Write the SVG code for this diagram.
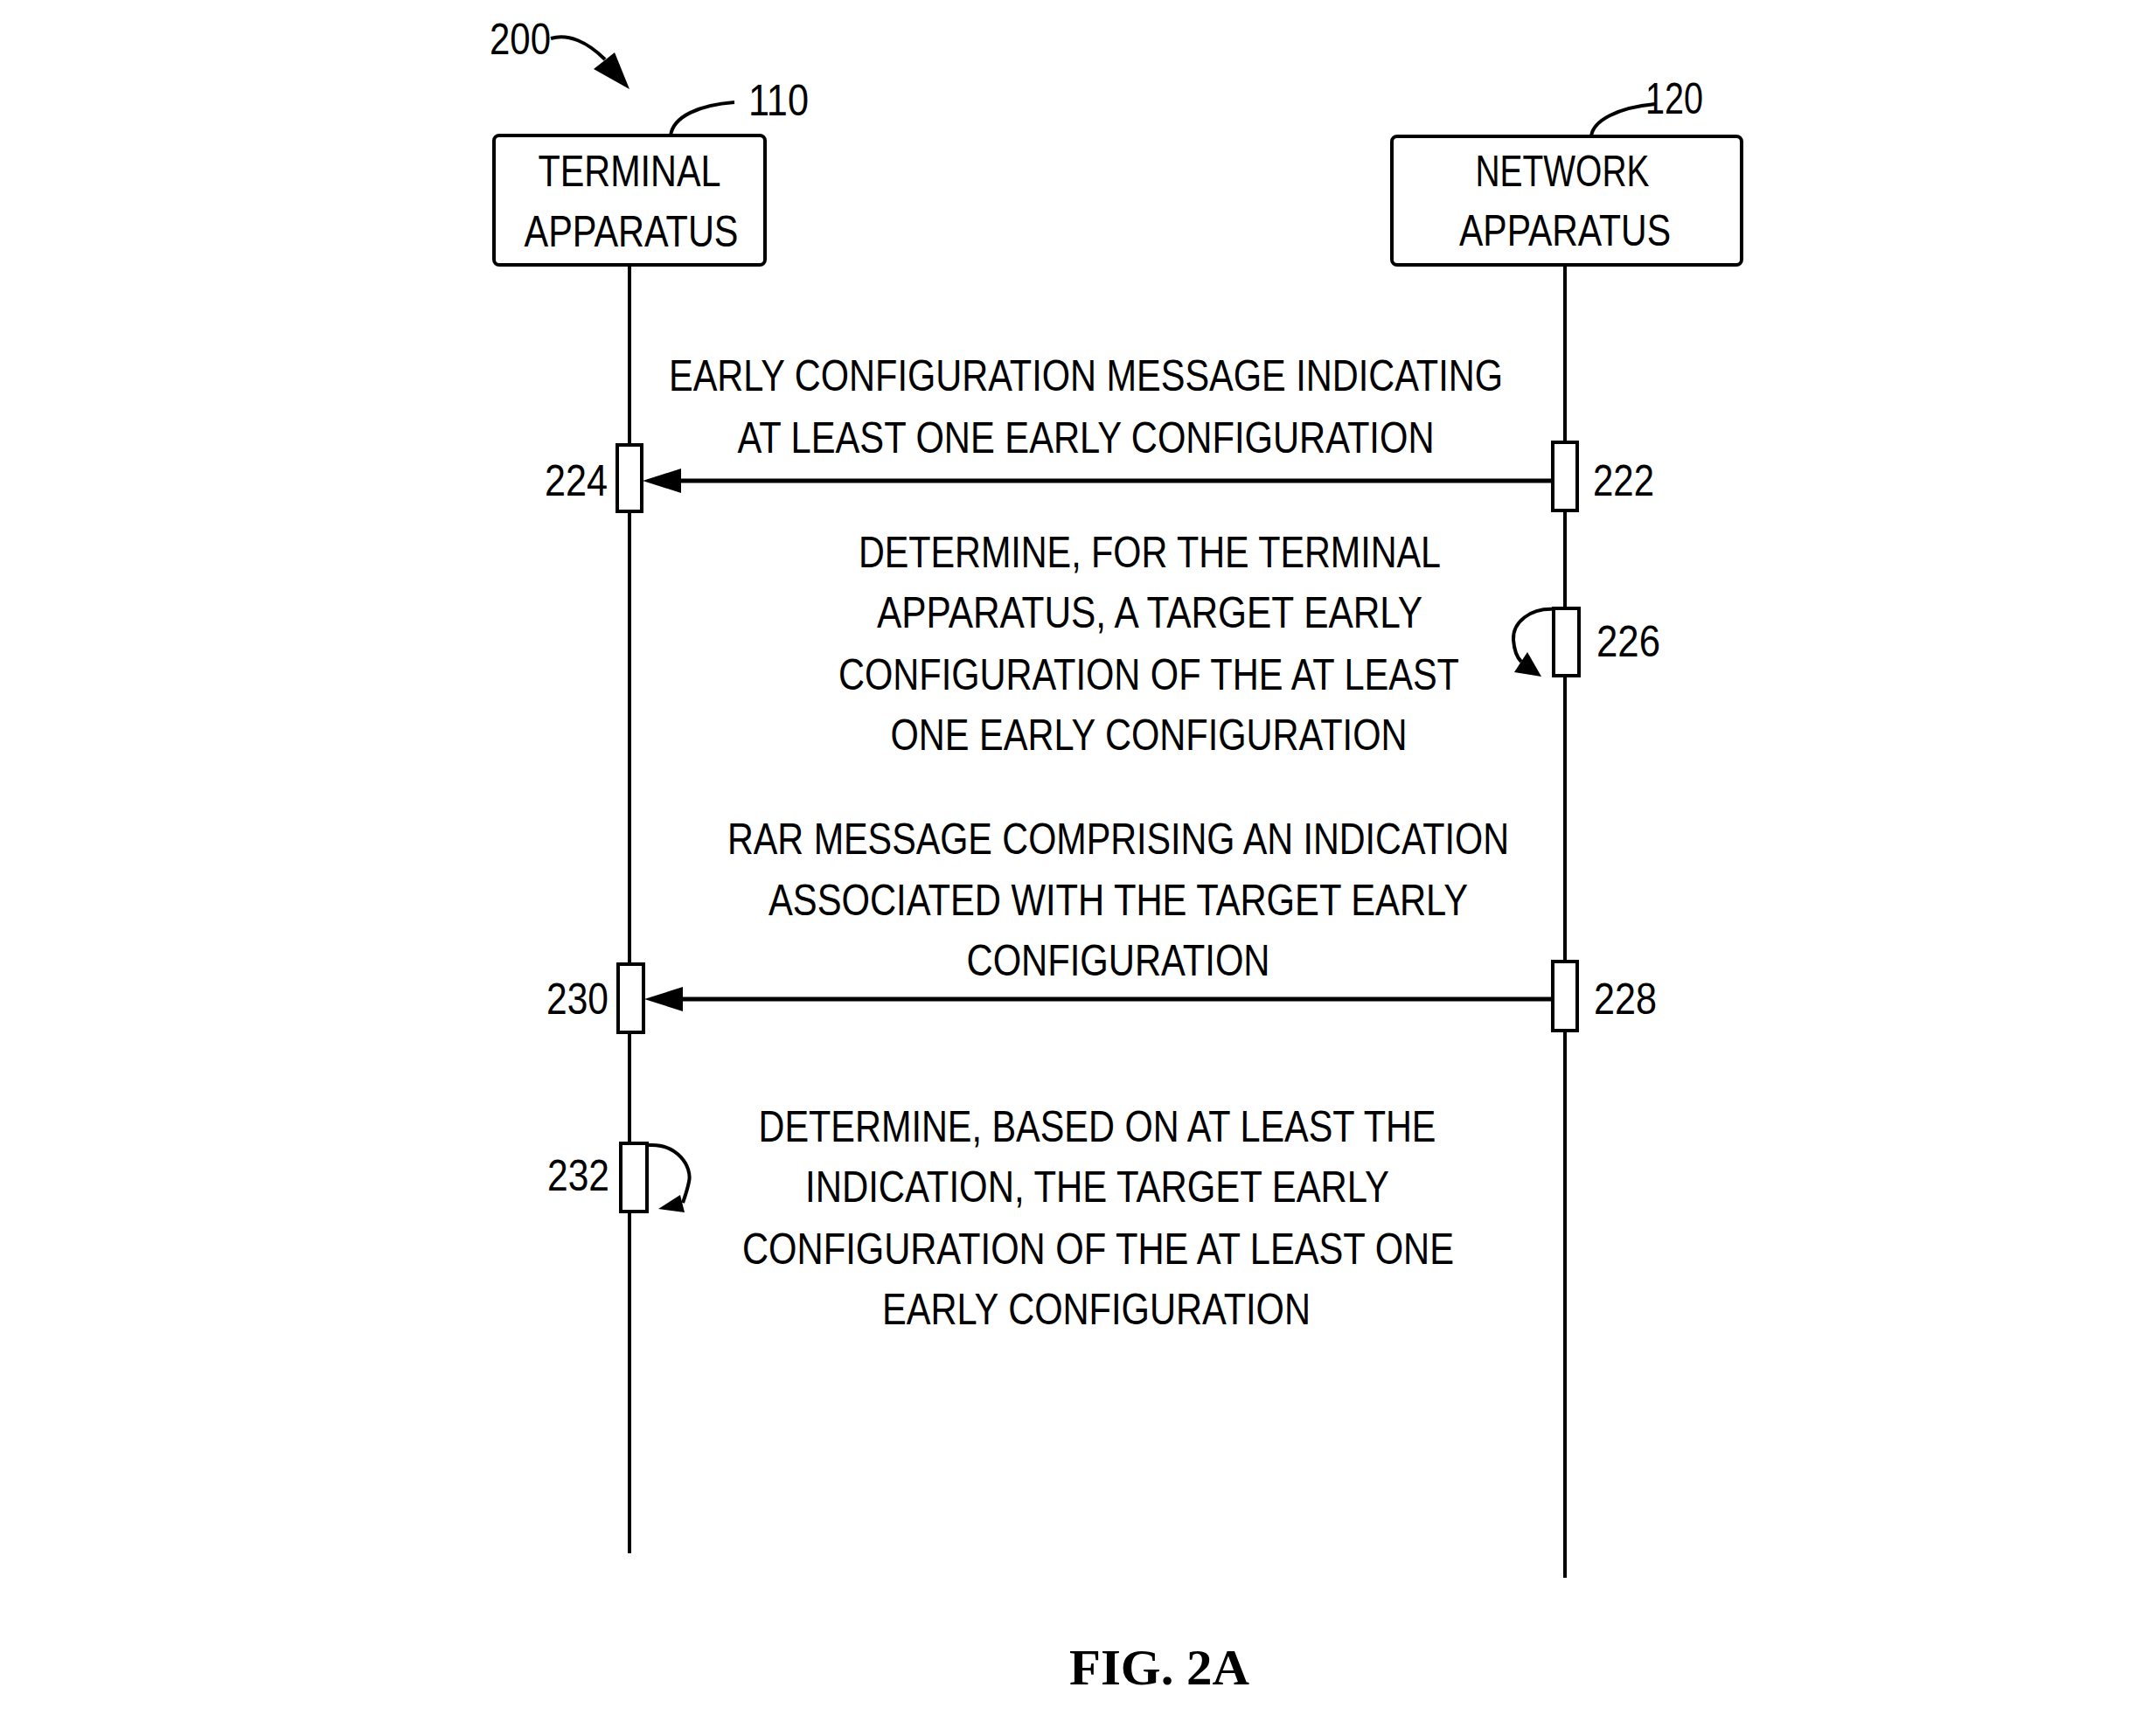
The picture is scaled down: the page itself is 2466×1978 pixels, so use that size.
<svg xmlns="http://www.w3.org/2000/svg" width="2466" height="1978" viewBox="0 0 2466 1978">
<style>
.t{font-family:"Liberation Sans",Arial,sans-serif;font-size:50px;fill:#000}
.c{text-anchor:middle}
.box{fill:#fff;stroke:#000;stroke-width:4}
.act{fill:#fff;stroke:#000;stroke-width:4}
.ln{stroke:#000;stroke-width:4;fill:none}
.msg{stroke:#000;stroke-width:5;fill:none}
.hd{fill:#000;stroke:none}
.fig{font-family:"Liberation Serif","Times New Roman",serif;font-weight:bold;font-size:56px;fill:#000}
</style>
<defs>
<marker id="ah" viewBox="0 0 44 28" refX="0" refY="14" markerWidth="44" markerHeight="28" markerUnits="userSpaceOnUse" orient="auto">
<path d="M0,0 L44,14 L0,28 z" fill="#000"/>
</marker>
</defs>
<rect width="2466" height="1978" fill="#fff"/>

<g id="ref200">
<text class="t" x="560" y="62" textLength="70" lengthAdjust="spacingAndGlyphs">200</text>
<path class="ln" d="M630,44 C650,38 672,48 692,68"/>
<polygon class="hd" points="679,79 703,60 720,102"/>
</g>

<g id="lifelines">
<line class="ln" x1="720" y1="303" x2="720" y2="1777"/>
<line class="ln" x1="1790" y1="303" x2="1790" y2="1805"/>
</g>

<g id="terminal">
<path class="ln" d="M840,117 C800,120 770,133 767,155"/>
<text class="t" x="856" y="132" textLength="69" lengthAdjust="spacingAndGlyphs">110</text>
<rect class="box" x="565" y="155" width="310" height="148" rx="6"/>
<text class="t c" x="720" y="213" textLength="209" lengthAdjust="spacingAndGlyphs">TERMINAL</text>
<text class="t c" x="722" y="282" textLength="245" lengthAdjust="spacingAndGlyphs">APPARATUS</text>
</g>

<g id="network">
<path class="ln" d="M1893,119 C1850,123 1822,138 1820,156"/>
<text class="t" x="1882" y="130" textLength="66" lengthAdjust="spacingAndGlyphs">120</text>
<rect class="box" x="1592" y="156" width="400" height="147" rx="6"/>
<text class="t c" x="1787" y="213" textLength="199" lengthAdjust="spacingAndGlyphs">NETWORK</text>
<text class="t c" x="1790" y="281" textLength="242" lengthAdjust="spacingAndGlyphs">APPARATUS</text>
</g>

<g id="connectors">
<line class="msg" x1="1776" y1="550" x2="779" y2="550" marker-end="url(#ah)"/>
<line class="msg" x1="1776" y1="1143" x2="781" y2="1143" marker-end="url(#ah)"/>
<path class="ln" d="M1779,697 C1750,695 1730,712 1731,732 C1732,745 1735,752 1740,757"/>
<polygon class="hd" points="1732,769 1747,746 1763,774"/>
<path class="ln" d="M742,1310 C775,1308 792,1335 788,1352 C786,1362 783,1370 781,1376"/>
<polygon class="hd" points="783,1387 778,1367 753,1383"/>
</g>

<g id="step222">
<rect class="act" x="1776" y="506" width="28" height="78"/>
<text class="t" x="1822" y="567" textLength="70" lengthAdjust="spacingAndGlyphs">222</text>
</g>
<g id="step224">
<rect class="act" x="706" y="509" width="28" height="76"/>
<text class="t" x="623" y="567" textLength="72" lengthAdjust="spacingAndGlyphs">224</text>
</g>
<g id="msg1">
<text class="t c" x="1242" y="447" textLength="954" lengthAdjust="spacingAndGlyphs">EARLY CONFIGURATION MESSAGE INDICATING</text>
<text class="t c" x="1242" y="518" textLength="797" lengthAdjust="spacingAndGlyphs">AT LEAST ONE EARLY CONFIGURATION</text>
</g>

<g id="step226">
<rect class="act" x="1777" y="696" width="29" height="77"/>
<text class="t" x="1826" y="751" textLength="73" lengthAdjust="spacingAndGlyphs">226</text>
<text class="t c" x="1315" y="649" textLength="666" lengthAdjust="spacingAndGlyphs">DETERMINE, FOR THE TERMINAL</text>
<text class="t c" x="1315" y="718" textLength="624" lengthAdjust="spacingAndGlyphs">APPARATUS, A TARGET EARLY</text>
<text class="t c" x="1314" y="789" textLength="710" lengthAdjust="spacingAndGlyphs">CONFIGURATION OF THE AT LEAST</text>
<text class="t c" x="1314" y="858" textLength="591" lengthAdjust="spacingAndGlyphs">ONE EARLY CONFIGURATION</text>
</g>

<g id="step228">
<rect class="act" x="1776" y="1100" width="28" height="79"/>
<text class="t" x="1823" y="1160" textLength="72" lengthAdjust="spacingAndGlyphs">228</text>
</g>
<g id="step230">
<rect class="act" x="707" y="1103" width="29" height="78"/>
<text class="t" x="625" y="1160" textLength="71" lengthAdjust="spacingAndGlyphs">230</text>
</g>
<g id="msg2">
<text class="t c" x="1279" y="977" textLength="894" lengthAdjust="spacingAndGlyphs">RAR MESSAGE COMPRISING AN INDICATION</text>
<text class="t c" x="1279" y="1047" textLength="800" lengthAdjust="spacingAndGlyphs">ASSOCIATED WITH THE TARGET EARLY</text>
<text class="t c" x="1279" y="1116" textLength="347" lengthAdjust="spacingAndGlyphs">CONFIGURATION</text>
</g>

<g id="step232">
<rect class="act" x="710" y="1308" width="30" height="78"/>
<text class="t" x="626" y="1362" textLength="71" lengthAdjust="spacingAndGlyphs">232</text>
<text class="t c" x="1255" y="1306" textLength="775" lengthAdjust="spacingAndGlyphs">DETERMINE, BASED ON AT LEAST THE</text>
<text class="t c" x="1255" y="1375" textLength="668" lengthAdjust="spacingAndGlyphs">INDICATION, THE TARGET EARLY</text>
<text class="t c" x="1256" y="1446" textLength="814" lengthAdjust="spacingAndGlyphs">CONFIGURATION OF THE AT LEAST ONE</text>
<text class="t c" x="1254" y="1515" textLength="490" lengthAdjust="spacingAndGlyphs">EARLY CONFIGURATION</text>
</g>

<text class="fig" x="1223" y="1927" textLength="206" lengthAdjust="spacingAndGlyphs">FIG. 2A</text>
</svg>
